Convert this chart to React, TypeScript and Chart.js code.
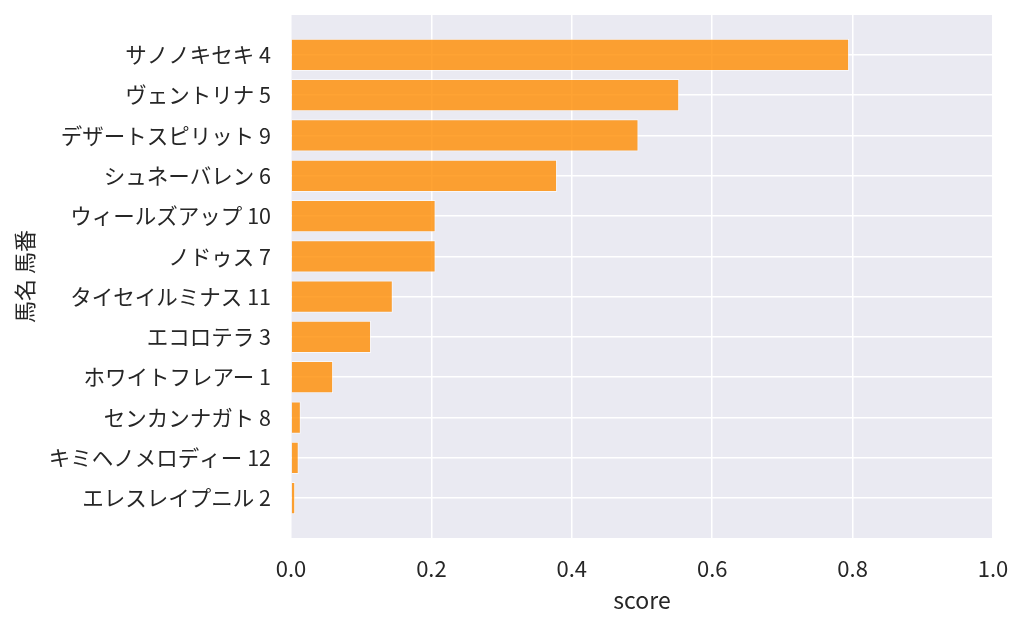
import React, { useEffect, useRef } from "react";
import { Chart, registerables } from "chart.js";

Chart.register(...registerables);

const horseLabels: string[] = [
  "サノノキセキ 4",
  "ヴェントリナ 5",
  "デザートスピリット 9",
  "シュネーバレン 6",
  "ウィールズアップ 10",
  "ノドゥス 7",
  "タイセイルミナス 11",
  "エコロテラ 3",
  "ホワイトフレアー 1",
  "センカンナガト 8",
  "キミヘノメロディー 12",
  "エレスレイプニル 2",
];

const scores: number[] = [
  0.795, 0.553, 0.495, 0.379, 0.206, 0.206, 0.145, 0.114, 0.06, 0.014, 0.011, 0.006,
];

const xTickValues: number[] = [0, 0.2, 0.4, 0.6, 0.8, 1.0];

const FONT = "'Noto Sans CJK JP', 'Noto Sans', sans-serif";
const TEXT = "#262626";

const bgPlugin = {
  id: "plotBg",
  beforeDraw(chart: any) {
    const { ctx, chartArea } = chart;
    if (!chartArea) return;
    ctx.save();
    ctx.fillStyle = "#EAEAF2";
    ctx.fillRect(chartArea.left, chartArea.top, chartArea.right - chartArea.left, chartArea.bottom - chartArea.top);
    ctx.restore();
  },
};

export default function App() {
  const ref = useRef<HTMLCanvasElement | null>(null);

  useEffect(() => {
    if (!ref.current) return;
    const chart = new Chart(ref.current, {
      type: "bar",
      data: {
        datasets: [
          {
            data: scores.map((v, i) => ({ x: v, y: i })),
            backgroundColor: "rgba(255,140,0,0.8)",
            borderColor: "rgba(255,255,255,0.6)",
            borderWidth: 1,
            barPercentage: 0.8,
            categoryPercentage: 1,
          },
        ],
      },
      options: {
        indexAxis: "y",
        animation: false,
        responsive: false,
        maintainAspectRatio: false,
        devicePixelRatio: 1,
        layout: { padding: { top: 15, right: 31, bottom: 0, left: 0 } },
        plugins: {
          legend: { display: false },
          tooltip: { enabled: false },
        },
        scales: {
          x: {
            type: "linear",
            min: 0,
            max: 1,
            offset: false,
            afterBuildTicks: (scale: any) => {
              scale.ticks = xTickValues.map((v) => ({ value: v }));
            },
            afterFit: (scale: any) => {
              scale.height = 89;
              scale.paddingLeft = 0;
              scale.paddingRight = 0;
            },
            ticks: {
              callback: (v: any) => Number(v).toFixed(1),
              color: TEXT,
              font: { family: FONT, size: 22 },
              padding: 17,
              maxRotation: 0,
            },
            grid: { color: "#FFFFFF", lineWidth: 1.5, drawTicks: false, offset: false },
            border: { display: false },
            title: {
              display: true,
              text: "score",
              color: TEXT,
              font: { family: FONT, size: 23 },
              padding: { top: 0, bottom: 13 },
            },
          },
          y: {
            type: "linear",
            reverse: true,
            min: -0.99,
            max: 11.99,
            offset: false,
            afterBuildTicks: (scale: any) => {
              scale.ticks = horseLabels.map((_, i) => ({ value: i }));
            },
            afterFit: (scale: any) => {
              scale.width = 291;
              scale.paddingTop = 0;
              scale.paddingBottom = 0;
            },
            ticks: {
              callback: (v: any) => horseLabels[Math.round(Number(v))] ?? "",
              color: TEXT,
              font: { family: FONT, size: 21.5 },
              padding: 20,
            },
            grid: { color: "#FFFFFF", lineWidth: 1.5, drawTicks: false, offset: false },
            border: { display: false },
            title: {
              display: true,
              text: "馬名 馬番",
              color: TEXT,
              font: { family: FONT, size: 22 },
              padding: { top: 11, bottom: 0 },
            },
          },
        },
      },
      plugins: [bgPlugin],
    } as any);
    return () => chart.destroy();
  }, []);

  return (
    <div style={{ position: "fixed", left: 0, top: 0, width: 1024, height: 627, background: "#fff" }}>
      <canvas ref={ref} width={1024} height={627} style={{ width: 1024, height: 627 }} />
    </div>
  );
}
